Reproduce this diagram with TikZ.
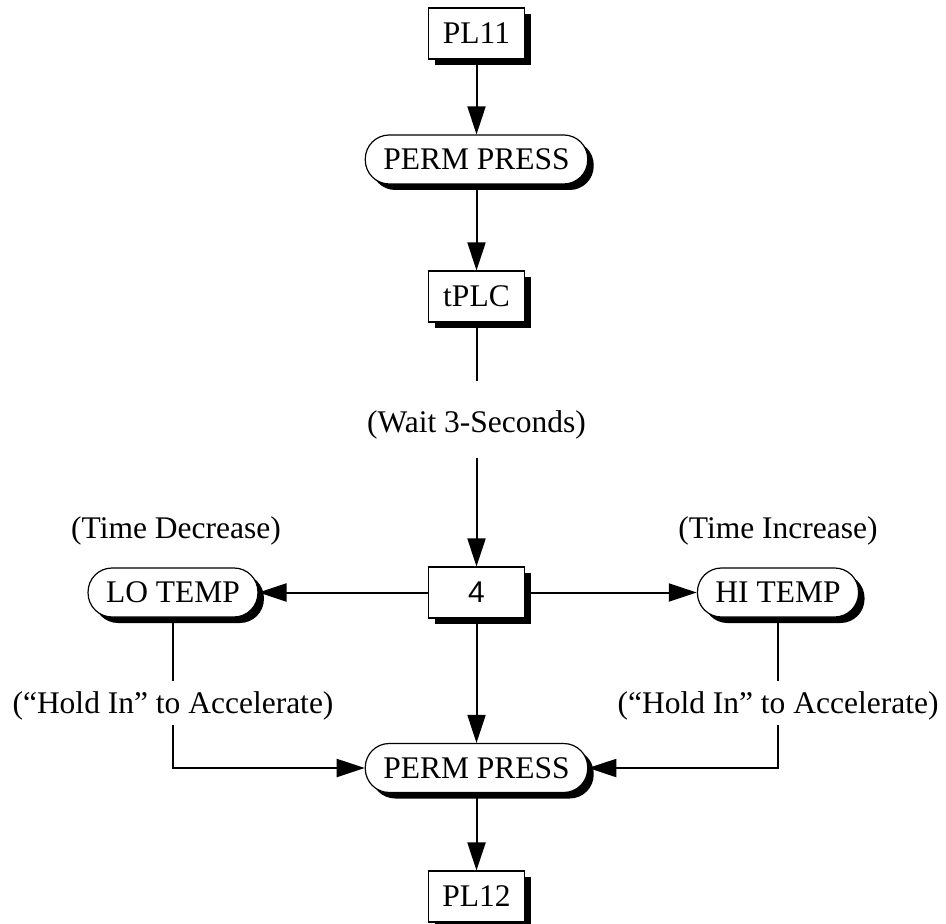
\documentclass[tikz,border=0pt]{standalone}
\usepackage{fontspec}
\setmainfont{Liberation Serif}
\setsansfont{Liberation Sans}
\usepackage{tikz}
\usetikzlibrary{arrows.meta, positioning, shadows}
\tikzset{
  box/.style={rectangle, draw=black, fill=white,
    minimum width=48pt, minimum height=25.5pt, inner sep=0pt,
    line width=0.6pt,
    drop shadow={shadow xshift=3pt, shadow yshift=-3pt, fill=black, opacity=1}},
  pill/.style={rectangle, draw=black, fill=white, rounded corners=12pt,
    minimum height=24.5pt, inner xsep=9pt, inner ysep=0pt,
    line width=0.6pt,
    drop shadow={shadow xshift=3pt, shadow yshift=-3pt, fill=black, opacity=1}},
  note/.style={inner sep=0pt, text height=16pt, text depth=5.5pt},
  arrow/.style={-{Triangle[length=14pt, width=9pt]}, line width=1pt},
  line/.style={line width=1pt}
}

\begin{document}
\begin{tikzpicture}[on grid, node distance=63pt and 151.75pt,
    font=\fontsize{15.75pt}{19pt}\selectfont]
  \useasboundingbox (-238.25pt,16.75pt) rectangle ++(473pt,-462pt);

  % Main column
  \node[box] (pl11) {PL11};
  \node[pill, below=63pt of pl11] (perm1) {PERM PRESS};
  \node[box, below=68.5pt of perm1] (tplc) {tPLC};
  \node[note, text height=26pt, text depth=12.5pt, below=61.5pt of tplc] (wait) {(Wait 3-Seconds)};
  \node[box, below=86.5pt of wait, font=\sffamily\fontsize{15pt}{18pt}\selectfont] (four) {4};

  % Temperature branches
  \node[pill, left=151.75pt of four] (lotemp) {LO TEMP};
  \node[pill, right=150.75pt of four] (hitemp) {HI TEMP};
  \node[note, above=32.25pt of lotemp, xshift=1.5pt] (lolabel) {(Time Decrease)};
  \node[note, above=32.25pt of hitemp] (hilabel) {(Time Increase)};
  \node[note, below=55.25pt of lotemp] (lohold) {(“Hold In” to Accelerate)};
  \node[note, below=55.25pt of hitemp] (hihold) {(“Hold In” to Accelerate)};

  % Bottom of column
  \node[pill, below=87.75pt of four] (perm2) {PERM PRESS};
  \node[box, below=64.25pt of perm2] (pl12) {PL12};

  % Connectors
  \draw[arrow] (pl11) -- (perm1);
  \draw[arrow] (perm1) -- (tplc);
  \draw[line] (tplc) -- (wait);
  \draw[arrow] (wait) -- (four);
  \draw[arrow] (four) -- (lotemp);
  \draw[arrow] (four) -- (hitemp);
  \draw[arrow] (four) -- (perm2);
  \draw[line] (lotemp) -- (lohold);
  \draw[arrow] (lohold) |- (perm2);
  \draw[line] (hitemp) -- (hihold);
  \draw[arrow] (hihold) |- (perm2);
  \draw[arrow] (perm2) -- (pl12);
\end{tikzpicture}
\end{document}
